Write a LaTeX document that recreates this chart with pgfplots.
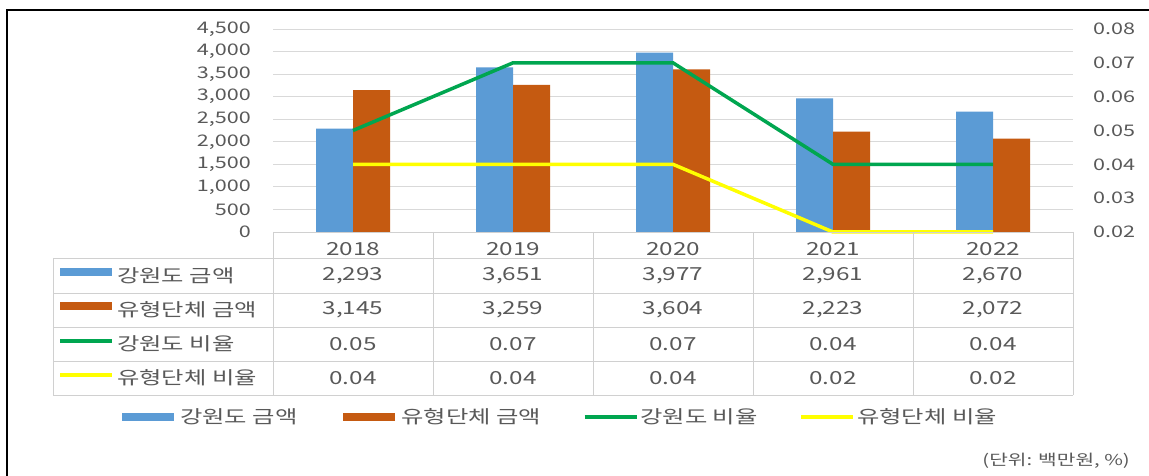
\documentclass[border=0pt]{standalone}
\usepackage{fontspec}
\setmainfont{Noto Sans CJK KR}[FakeStretch=1.35]
\usepackage{pgfplots}
\pgfplotsset{compat=1.18}
\definecolor{cblue}{HTML}{5B9BD5}
\definecolor{corange}{HTML}{C55A11}
\definecolor{cgreen}{HTML}{00A650}
\definecolor{cyellow}{HTML}{FFFF00}
\definecolor{ctext}{HTML}{595959}
\definecolor{cgrid}{HTML}{D9D9D9}
\definecolor{ctab}{HTML}{D0D0D0}
\begin{document}
\begin{tikzpicture}
\useasboundingbox (0,0) rectangle (1149pt,476pt);
\fill[white] (0,0) rectangle (1149pt,476pt);
\draw[black, line width=1.5pt] (7pt,0) -- (7pt,466pt) -- (1149pt,466pt);

\begin{axis}[
  at={(273pt,244pt)}, anchor=south west,
  scale only axis, width=800pt, height=203pt,
  xmin=-0.5, xmax=4.5, ymin=0, ymax=4500,
  ytick={0,500,1000,1500,2000,2500,3000,3500,4000,4500},
  xtick={0,1,2,3,4},
  xticklabel={\pgfmathparse{int(2018+\tick)}\pgfmathresult},
  yticklabel={\pgfmathprintnumber{\tick}},
  scaled y ticks=false,
  major tick style={draw=none},
  axis line style={draw=none},
  ymajorgrids, grid style={cgrid, line width=0.8pt},
  ybar=0pt, bar width=37pt,
  /pgf/number format/assume math mode=true,
  /pgf/number format/1000 sep={,},
  yticklabel style={font=\fontsize{16}{18}\selectfont, text=ctext, inner sep=0pt, anchor=east, xshift=-22pt},
  xticklabel style={font=\fontsize{18}{20}\selectfont, text=ctext, inner sep=0pt, anchor=center, yshift=-13pt},
]
\addplot[fill=cblue, draw=none] coordinates {(0,2293) (1,3651) (2,3977) (3,2961) (4,2670)};
\addplot[fill=corange, draw=none] coordinates {(0,3145) (1,3259) (2,3604) (3,2223) (4,2072)};
\end{axis}

\begin{axis}[
  at={(273pt,244pt)}, anchor=south west,
  scale only axis, width=800pt, height=203pt,
  xmin=-0.5, xmax=4.5, ymin=0.02, ymax=0.08,
  ytick={0.02,0.03,0.04,0.05,0.06,0.07,0.08},
  yticklabel={\pgfmathprintnumber{\tick}},
  scaled y ticks=false,
  axis y line*=right, hide x axis,
  major tick style={draw=none},
  axis line style={draw=none},
  clip=false,
  /pgf/number format/assume math mode=true,
  /pgf/number format/fixed,
  /pgf/number format/fixed zerofill,
  /pgf/number format/precision=2,
  yticklabel style={font=\fontsize{16}{18}\selectfont, text=ctext, inner sep=0pt, anchor=west, xshift=20pt},
  legend image code/.code={\draw[#1] (0pt,0pt) -- (52pt,0pt);},
  legend columns=4,
  legend style={at={(axis description cs:-0.19375,-0.911)}, anchor=west,
    draw=none, fill=none, inner sep=0pt,
    font=\fontsize{18}{20}\selectfont, text=ctext,
    nodes={inner sep=2pt, font=\fontsize{18}{20}\selectfont, text=ctext},
    /tikz/every even column/.append style={column sep=40pt}},
]
\addlegendimage{cblue, line width=8pt}
\addlegendentry{강원도 금액}
\addlegendimage{corange, line width=8pt}
\addlegendentry{유형단체 금액}
\addplot[cgreen, line width=3.5pt] coordinates {(0,0.05) (1,0.07) (2,0.07) (3,0.04) (4,0.04)};
\addlegendentry{강원도 비율}
\addplot[cyellow, line width=3.5pt] coordinates {(0,0.04) (1,0.04) (2,0.04) (3,0.02) (4,0.02)};
\addlegendentry{유형단체 비율}
\end{axis}

\begin{scope}[shift={(0,476pt)}, x=1pt, y=-1pt]
  \draw[ctab, line width=0.8pt] (273,232) -- (1073,232);
  \foreach \x in {273,433,593,753,913,1073} \draw[ctab, line width=0.8pt] (\x,232) -- (\x,395);
  \foreach \y in {258,293,327,361,395} \draw[ctab, line width=0.8pt] (53,\y) -- (1073,\y);
  \draw[ctab, line width=0.8pt] (53,258) -- (53,395);
  % row keys
  \draw[cblue, line width=8pt] (60,272) -- (112,272);
  \draw[corange, line width=8pt] (60,306) -- (112,306);
  \draw[cgreen, line width=3.5pt] (60,341) -- (112,341);
  \draw[cyellow, line width=3.5pt] (60,375) -- (112,375);
  \begin{scope}[every node/.style={font=\fontsize{18}{20}\selectfont, text=ctext, inner sep=0pt}]
  \node[anchor=west] at (117,275.5) {강원도 금액};
  \node[anchor=west] at (117,310) {유형단체 금액};
  \node[anchor=west] at (117,344) {강원도 비율};
  \node[anchor=west] at (117,378) {유형단체 비율};
  \foreach \v [count=\i from 0] in {{2,293},{3,651},{3,977},{2,961},{2,670}}
    \node at (353+160*\i,275.5) {\v};
  \foreach \v [count=\i from 0] in {{3,145},{3,259},{3,604},{2,223},{2,072}}
    \node at (353+160*\i,310) {\v};
  \foreach \v [count=\i from 0] in {0.05,0.07,0.07,0.04,0.04}
    \node at (353+160*\i,344) {\v};
  \foreach \v [count=\i from 0] in {0.04,0.04,0.04,0.02,0.02}
    \node at (353+160*\i,378) {\v};
  \end{scope}
  \node[anchor=east, font=\fontsize{15}{17}\selectfont, text=ctext, inner sep=0pt] at (1130,461) {(단위: 백만원, \%)};
\end{scope}
\end{tikzpicture}
\end{document}
